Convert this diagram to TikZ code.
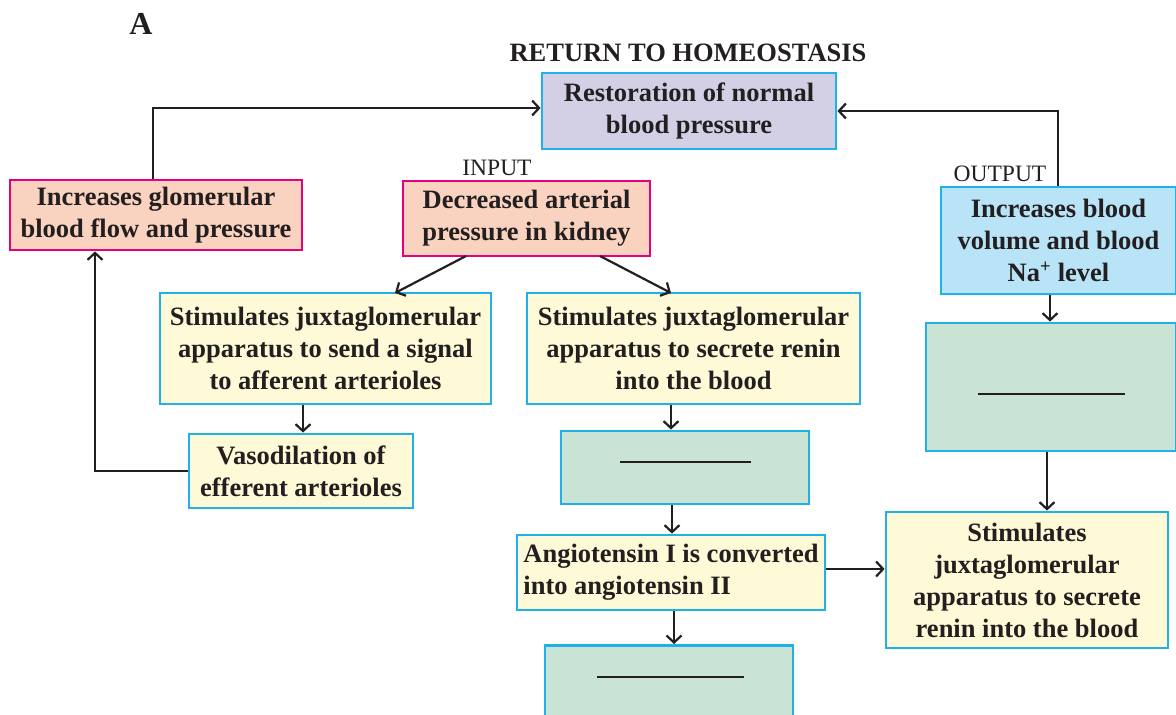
\documentclass[tikz,border=0pt]{standalone}
\usepackage{fontspec}
\setmainfont{Liberation Serif}
\usetikzlibrary{arrows.meta}
\definecolor{bordcyan}{RGB}{30,178,232}
\definecolor{bordmag}{RGB}{228,0,126}
\definecolor{lav}{RGB}{211,208,230}
\definecolor{peach}{RGB}{250,211,192}
\definecolor{cream}{RGB}{254,249,214}
\definecolor{lblue}{RGB}{185,227,246}
\definecolor{lgreen}{RGB}{201,228,212}
\definecolor{ink}{RGB}{35,31,32}
\tikzset{
  box/.style={draw=bordcyan, line width=2.8pt, inner sep=0pt, align=center,
    font=\fontsize{26.5}{32}\selectfont\bfseries, text=ink},
  pbox/.style={box, draw=bordmag},
  conn/.style={draw=ink, line width=2.2pt, -{Straight Barb[length=7pt,width=15pt,line width=2.2pt]}},
  blank/.style={draw=ink, line width=1.6pt},
  lbl/.style={font=\fontsize{23.5}{26}\selectfont, text=ink, inner sep=0pt}
}
\begin{document}
\begin{tikzpicture}[x=1pt,y=-1pt]
\useasboundingbox (0,0) rectangle (1176,715);
\node[font=\fontsize{32}{34}\selectfont\bfseries, text=ink, inner sep=0pt] (A) at (141,24) {A};
\node[font=\fontsize{26.5}{28}\selectfont\bfseries, text=ink, inner sep=0pt] (title) at (688,53) {RETURN TO HOMEOSTASIS};

\node[box, fill=lav, minimum width=294pt, minimum height=76pt] (rest) at (689,111) {Restoration of normal\\blood pressure};
\node[pbox, fill=peach, minimum width=292pt, minimum height=70pt] (glom) at (156,215) {Increases glomerular\\blood flow and pressure};
\node[pbox, fill=peach, minimum width=247pt, minimum height=75pt] (dec) at (526.5,218.5) {Decreased arterial\\pressure in kidney};
\node[lbl] (input) at (497,168) {INPUT};
\node[box, fill=lblue, minimum width=235pt, minimum height=107pt] (vol) at (1058.5,240.5) {Increases blood\\volume and blood\\Na\textsuperscript{+} level};
\node[lbl] (output) at (1000,174) {OUTPUT};
\node[box, fill=cream, minimum width=331pt, minimum height=111pt] (sig) at (325.5,348.5) {Stimulates juxtaglomerular\\apparatus to send a signal\\to afferent arterioles};
\node[box, fill=cream, minimum width=333pt, minimum height=111pt] (ren) at (693.5,348.5) {Stimulates juxtaglomerular\\apparatus to secrete renin\\into the blood};
\node[box, fill=lgreen, minimum width=250pt, minimum height=128pt] (gr1) at (1051,387) {};
\node[box, fill=cream, minimum width=224pt, minimum height=74pt] (vas) at (301,471) {Vasodilation of\\efferent arterioles};
\node[box, fill=lgreen, minimum width=248pt, minimum height=73pt] (gr2) at (685,467.5) {};
\node[box, fill=cream, minimum width=308pt, minimum height=75pt, align=left] (ang) at (671,572.5) {Angiotensin I is converted\\into angiotensin II};
\node[box, fill=cream, minimum width=282pt, minimum height=136pt] (stim) at (1027,580) {Stimulates\\juxtaglomerular\\apparatus to secrete\\renin into the blood};
\node[box, fill=lgreen, minimum width=248pt, minimum height=90pt, anchor=north] (gr3) at (669,644) {};

\coordinate (b1a) at (978,394); \coordinate (b1b) at (1125,394);
\coordinate (b2a) at (620,462); \coordinate (b2b) at (751,462);
\coordinate (b3a) at (597,677); \coordinate (b3b) at (744,677);
\draw[blank] (b1a) -- (b1b);
\draw[blank] (b2a) -- (b2b);
\draw[blank] (b3a) -- (b3b);

\draw[conn] (glom.north -| 153,0) |- (rest.west |- 0,108);
\draw[conn] (vol.north -| 1058,0) |- (rest.east |- 0,111);
\draw[conn] (466,256) -- (395,293);
\draw[conn] (600,256) -- (671,293);
\draw[conn] (sig.south -| 303,0) -- (vas.north -| 303,0);
\draw[conn] (vas.west) -| (glom.south -| 95,0);
\draw[conn] (ren.south -| 671,0) -- (gr2.north -| 671,0);
\draw[conn] (gr2.south -| 672,0) -- (ang.north -| 672,0);
\draw[conn] (ang.south -| 674,0) -- (gr3.north -| 674,0);
\draw[conn] (ang.east |- 0,569) -- (stim.west |- 0,569);
\draw[conn] (vol.south -| 1050,0) -- (gr1.north -| 1050,0);
\draw[conn] (gr1.south -| 1047,0) -- (stim.north -| 1047,0);
\end{tikzpicture}
\end{document}
